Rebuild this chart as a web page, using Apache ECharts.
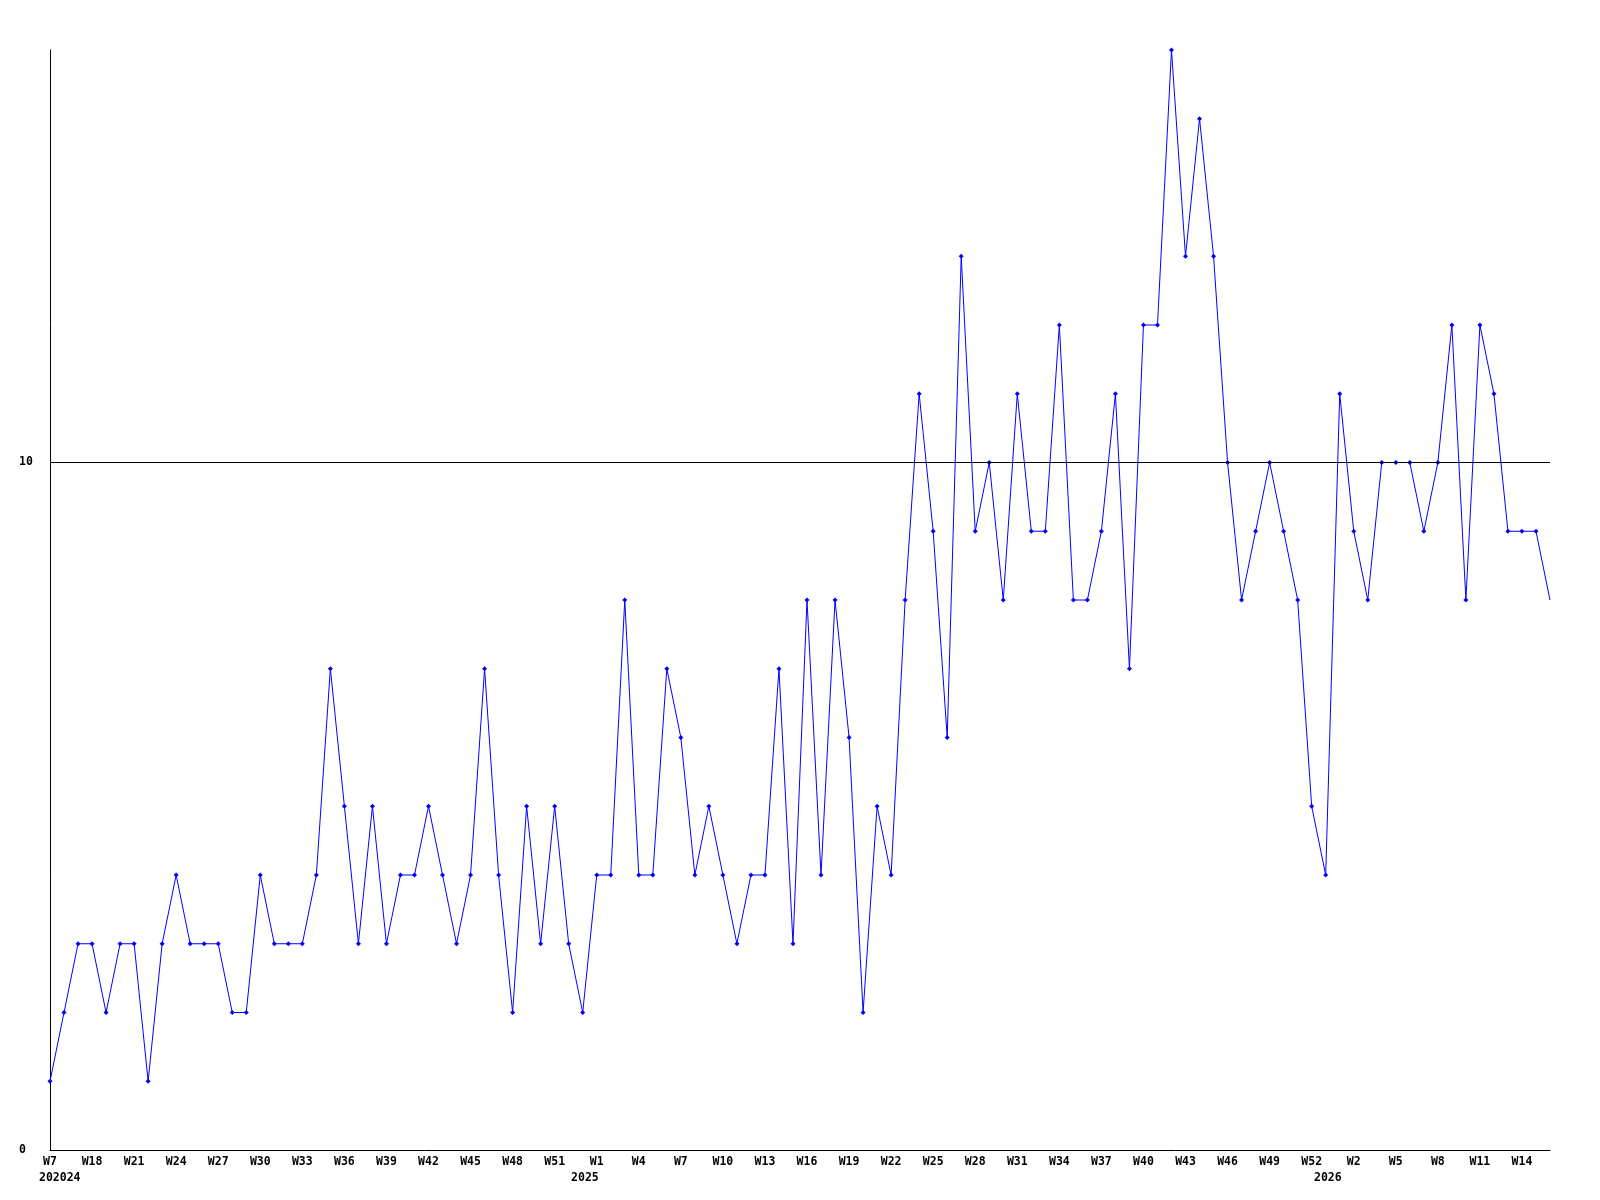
<!DOCTYPE html>
<html>
<head>
<meta charset="utf-8">
<script src="https://cdn.jsdelivr.net/npm/echarts@6/dist/echarts.min.js"></script>
<style>
html,body{margin:0;padding:0;background:#fff;}
#chart{width:1600px;height:1200px;}
</style>
</head>
<body>
<div id="chart"></div>
<script>
// Week labels per year (as shown on the axis)
const weeks2024 = ['W7','W16','W17','W18','W19','W20','W21','W22','W23','W24','W25','W26','W27','W28','W29','W30','W31','W32','W33','W34','W35','W36','W37','W38','W39','W40','W41','W42','W43','W44','W45','W46','W47','W48','W49','W50','W51','W52','W53'];
const weeks2025 = ['W1','W2','W3','W4','W5','W6','W7','W8','W9','W10','W11','W12','W13','W14','W15','W16','W17','W18','W19','W20','W21','W22','W23','W24','W25','W26','W27','W28','W29','W30','W31','W32','W33','W34','W35','W36','W37','W38','W39','W40','W41','W42','W43','W44','W45','W46','W47','W48','W49','W50','W51','W52','W53'];
const weeks2026 = ['W1','W2','W3','W4','W5','W6','W7','W8','W9','W10','W11','W12','W13','W14','W15','W16'];
const categories = weeks2024.concat(weeks2025, weeks2026);

// Year labels: [category index, text]
const yearLabels = [[0, '202024'], [39, '2025'], [92, '2026']];

// Series values
const values = [1,2,3,3,2,3,3,1,3,4, 3,3,3,2,2,4,3,3,3,4, 7,5,3,5,3,4,4,5,4,3,
                4,7,4,2,5,3,5,3,2,4, 4,8,4,4,7,6,4,5,4,3, 4,4,7,3,8,4,8,6,2,5,
                4,8,11,9,6,13,9,10,8,11, 9,9,12,8,8,9,11,7,12,12, 16,13,15,13,10,8,9,10,9,8,
                5,4,11,9,8,10,10,10,9,10, 12,8,12,11,9,9,9,8];

const yTickLabels = [0, 10];

const FONT = '"DejaVu Sans Mono", monospace';
const chart = echarts.init(document.getElementById('chart'), null, {renderer: 'canvas'});

const seriesData = values.map((v, i) => i === values.length - 1 ? {value: v, symbol: 'none'} : v);

chart.setOption({
  animation: false,
  backgroundColor: '#ffffff',
  grid: {left: 50, right: 50, top: 50, bottom: 50, containLabel: false},
  xAxis: {
    type: 'category',
    data: categories,
    boundaryGap: false,
    axisLine: {show: true, lineStyle: {color: '#000', width: 1}},
    axisTick: {show: false},
    splitLine: {show: false},
    axisLabel: {
      interval: 2,
      margin: 6,
      color: '#000',
      fontFamily: FONT,
      fontWeight: 'bold',
      fontSize: 11.5,
      lineHeight: 12
    }
  },
  yAxis: {
    type: 'value',
    min: 0,
    max: 16,
    interval: 10,
    axisLine: {show: true, lineStyle: {color: '#000', width: 1}},
    axisTick: {show: false},
    splitLine: {show: false},
    axisLabel: {
      align: 'left',
      margin: 31,
      color: '#000',
      fontFamily: FONT,
      fontWeight: 'bold',
      fontSize: 11.5,
      formatter: function (v) { return yTickLabels.indexOf(v) >= 0 ? String(v) : ''; }
    }
  },
  series: [{
    type: 'line',
    data: seriesData,
    showAllSymbol: true,
    symbol: 'diamond',
    symbolSize: 5,
    itemStyle: {color: '#0000ff'},
    lineStyle: {color: '#0000ff', width: 1},
    markLine: {
      silent: true,
      symbol: ['none', 'none'],
      label: {show: false},
      lineStyle: {color: '#000', width: 1, type: 'solid'},
      data: [{yAxis: 10}]
    }
  }]
});

// Year labels placed via the axis scale (by category index)
const graphics = yearLabels.map(function (yl) {
  const px = chart.convertToPixel({xAxisIndex: 0}, yl[0]);
  const first = yl[0] === 0;
  return {
    type: 'text',
    x: first ? px - 11 : px + 2,
    y: 1178,
    style: {
      text: yl[1],
      fill: '#000',
      font: 'bold 11.5px ' + FONT,
      align: first ? 'left' : 'right',
      verticalAlign: 'middle'
    }
  };
});
chart.setOption({graphic: graphics});
</script>
</body>
</html>
